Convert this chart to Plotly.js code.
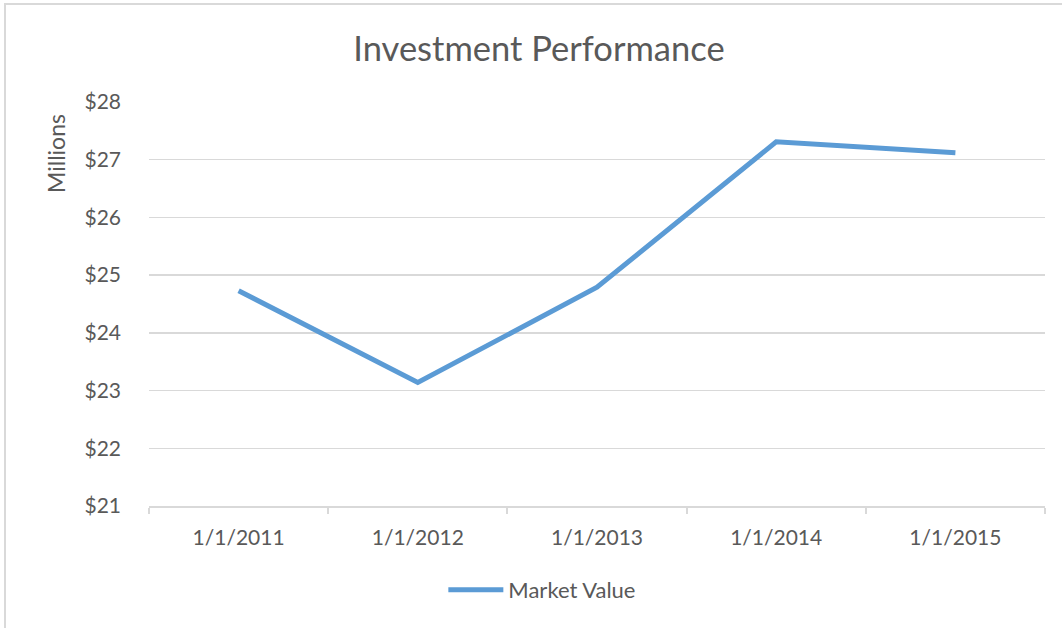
<!DOCTYPE html>
<html>
<head>
<meta charset="utf-8">
<script src="https://cdn.plot.ly/plotly-3.0.1.min.js"></script>
<style>
  html, body { margin: 0; padding: 0; background: #fff; }
  #wrap { position: relative; width: 1062px; height: 628px; overflow: hidden; }
  #chart { width: 1062px; height: 628px; }
  #frame { position: absolute; left: 4px; top: 3px; right: -10px; bottom: -10px;
           border-top: 2px solid #d9d9d9; border-left: 2px solid #d9d9d9; pointer-events: none; }
</style>
</head>
<body>
<div id="wrap">
  <div id="chart"></div>
  <div id="frame"></div>
</div>
<script>
const categories = ["1/1/2011", "1/1/2012", "1/1/2013", "1/1/2014", "1/1/2015"];
const marketValue = [24.73, 23.14, 24.79, 27.31, 27.12];
const yTickVals = [21, 22, 23, 24, 25, 26, 27, 28];
const yTickText = ["$21", "$22", "$23", "$24", "$25", "$26", "$27", "$28"];

const textColor = "#595959";
const gridColor = "#d9d9d9";
const fontFam = "Lato, 'Open Sans', sans-serif";

const trace = {
  x: categories,
  y: marketValue,
  type: "scatter",
  mode: "lines",
  name: "Market Value",
  line: { color: "#5b9bd5", width: 5 }
};

const layout = {
  width: 1062,
  height: 628,
  paper_bgcolor: "#ffffff",
  plot_bgcolor: "#ffffff",
  margin: { l: 149, r: 17, t: 102, b: 122 },
  font: { family: fontFam, color: textColor, size: 21 },
  title: {
    text: "Investment Performance",
    font: { family: fontFam, size: 34.5, color: textColor },
    x: 0.5075, xanchor: "center",
    y: 0.922, yanchor: "middle"
  },
  xaxis: {
    type: "category",
    range: [-0.5, 4.5],
    showgrid: false,
    showline: true,
    linecolor: gridColor,
    linewidth: 2,
    ticks: "outside",
    tickson: "boundaries",
    ticklen: 6,
    tickwidth: 2,
    tickcolor: gridColor,
    ticklabelstandoff: 12,
    tickfont: { family: fontFam, size: 21, color: textColor },
    fixedrange: true
  },
  yaxis: {
    range: [21, 28],
    tickvals: yTickVals,
    ticktext: yTickText,
    showgrid: true,
    gridcolor: gridColor,
    gridwidth: 1.5,
    zeroline: false,
    showline: false,
    ticks: "",
    ticklabelstandoff: 27,
    tickfont: { family: fontFam, size: 21, color: textColor },
    fixedrange: true
  },
  annotations: [{
    text: "Millions",
    xref: "paper", yref: "paper",
    x: -0.1038, y: 0.8738,
    xanchor: "center", yanchor: "middle",
    textangle: -90,
    showarrow: false,
    font: { family: fontFam, size: 23, color: textColor }
  }],
  showlegend: true,
  legend: {
    orientation: "h",
    x: 0.439, xanchor: "center",
    y: -0.208, yanchor: "middle",
    font: { family: fontFam, size: 22, color: textColor },
    itemwidth: 55,
    bgcolor: "rgba(0,0,0,0)"
  }
};

Plotly.newPlot("chart", [trace], layout, { displayModeBar: false, staticPlot: true });
</script>
</body>
</html>
